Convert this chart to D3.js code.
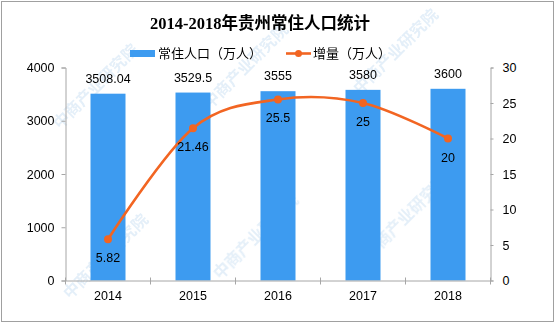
<!DOCTYPE html>
<html>
<head>
<meta charset="utf-8">
<script src="https://cdn.jsdelivr.net/npm/d3@7"></script>
<style>
  html, body { margin: 0; padding: 0; background: #fff; }
  svg { display: block; }
</style>
</head>
<body>
<svg id="chart" width="556" height="323"></svg>
<script>
// Guizhou resident population 2014-2018
const years = ["2014", "2015", "2016", "2017", "2018"];
const population = [3508.04, 3529.5, 3555, 3580, 3600];     // 常住人口（万人）
const increase = [5.82, 21.46, 25.5, 25, 20];                // 增量（万人）
const popLabels = ["3508.04", "3529.5", "3555", "3580", "3600"];
const incLabels = ["5.82", "21.46", "25.5", "25", "20"];
const leftTicks = [0, 1000, 2000, 3000, 4000];
const rightTicks = [0, 5, 10, 15, 20, 25, 30];

const W = 556, H = 323;
const plot = { left: 65.5, right: 490.5, top: 67.5, bottom: 280.5 };
const BLUE = "#3d9bf0", ORANGE = "#f26522", AXIS = "#a6a6a6";
const NUM_FONT = "'Liberation Sans', Arial, sans-serif";
const CJK_FONT = "'Noto Sans CJK SC', sans-serif";

const svg = d3.select("#chart");

// frame
svg.append("rect").attr("x", 1.5).attr("y", 1.5).attr("width", W - 4).attr("height", H - 3)
  .attr("fill", "#fff").attr("stroke", "#a0a0a0").attr("stroke-width", 1);

// watermark
const wm = svg.append("g").attr("fill", "#c9dff2").attr("opacity", 0.5)
  .attr("font-family", CJK_FONT).attr("font-size", 16).attr("font-weight", "bold");
[[60, 130], [210, 110], [360, 95], [70, 300], [220, 280], [370, 260]]
  .forEach(([x, y]) => {
    wm.append("text").attr("transform", `translate(${x},${y}) rotate(-45)`).text("中商产业研究院");
  });

const x = d3.scaleBand().domain(years).range([plot.left, plot.right]).paddingInner(0).paddingOuter(0);
const yL = d3.scaleLinear().domain([0, 4000]).range([plot.bottom, plot.top]);
const yR = d3.scaleLinear().domain([0, 30]).range([plot.bottom, plot.top]);
const barW = 35;

// bars
svg.append("g").selectAll("rect").data(years).join("rect")
  .attr("x", (d) => x(d) + x.bandwidth() / 2 - barW / 2)
  .attr("y", (d, i) => yL(population[i]))
  .attr("width", barW)
  .attr("height", (d, i) => plot.bottom - yL(population[i]))
  .attr("fill", BLUE);

// left axis
const gL = svg.append("g").attr("transform", `translate(${plot.left},0)`)
  .call(d3.axisLeft(yL).tickValues(leftTicks).tickFormat(d3.format("d")).tickSize(4).tickPadding(7));
// right axis
const gR = svg.append("g").attr("transform", `translate(${plot.right},0)`)
  .call(d3.axisRight(yR).tickValues(rightTicks).tickSize(3).tickPadding(9));
// bottom axis with ticks at category boundaries
const gB = svg.append("g").attr("transform", `translate(0,${plot.bottom})`)
  .call(d3.axisBottom(x).tickSize(0).tickPadding(11));
gB.append("g").selectAll("line").data(years.concat(["end"])).join("line")
  .attr("x1", (d, i) => plot.left + i * x.bandwidth())
  .attr("x2", (d, i) => plot.left + i * x.bandwidth())
  .attr("y1", -3).attr("y2", 4).attr("stroke", AXIS);

[gL, gR, gB].forEach((g) => {
  g.select(".domain").attr("stroke", AXIS);
  g.selectAll(".tick line").attr("stroke", AXIS);
  g.selectAll("text").attr("fill", "#000").attr("font-family", NUM_FONT).attr("font-size", 12.5);
});

// line
const cx = (i) => x(years[i]) + x.bandwidth() / 2;
const line = d3.line().x((d, i) => cx(i)).y((d) => yR(d)).curve(d3.curveCardinal.tension(0));
svg.append("path").datum(increase).attr("d", line)
  .attr("fill", "none").attr("stroke", ORANGE).attr("stroke-width", 2.6);
svg.append("g").selectAll("circle").data(increase).join("circle")
  .attr("cx", (d, i) => cx(i)).attr("cy", (d) => yR(d)).attr("r", 4).attr("fill", ORANGE);

// value labels
svg.append("g").selectAll("text").data(popLabels).join("text")
  .attr("x", (d, i) => cx(i)).attr("y", (d, i) => yL(population[i]) - 11)
  .attr("text-anchor", "middle").attr("font-family", NUM_FONT).attr("font-size", 12.5).text((d) => d);
svg.append("g").selectAll("text").data(incLabels).join("text")
  .attr("x", (d, i) => cx(i)).attr("y", (d, i) => yR(increase[i]) + 23)
  .attr("text-anchor", "middle").attr("font-family", NUM_FONT).attr("font-size", 12.5).text((d) => d);

// title
svg.append("text").attr("x", 260).attr("y", 29).attr("text-anchor", "middle")
  .attr("font-family", "'Liberation Serif', 'Noto Sans CJK SC', serif").attr("font-weight", "bold")
  .attr("font-size", 16.5).text("2014-2018年贵州常住人口统计");

// legend
const lg = svg.append("g").attr("font-family", CJK_FONT).attr("font-size", 13);
lg.append("rect").attr("x", 130).attr("y", 50).attr("width", 25).attr("height", 7).attr("fill", BLUE);
lg.append("text").attr("x", 158).attr("y", 58).text("常住人口（万人）");
lg.append("line").attr("x1", 286).attr("x2", 311).attr("y1", 53.5).attr("y2", 53.5)
  .attr("stroke", ORANGE).attr("stroke-width", 2.6);
lg.append("circle").attr("cx", 298.5).attr("cy", 53.5).attr("r", 3.5).attr("fill", ORANGE);
lg.append("text").attr("x", 313).attr("y", 58).text("增量（万人）");
</script>
</body>
</html>
